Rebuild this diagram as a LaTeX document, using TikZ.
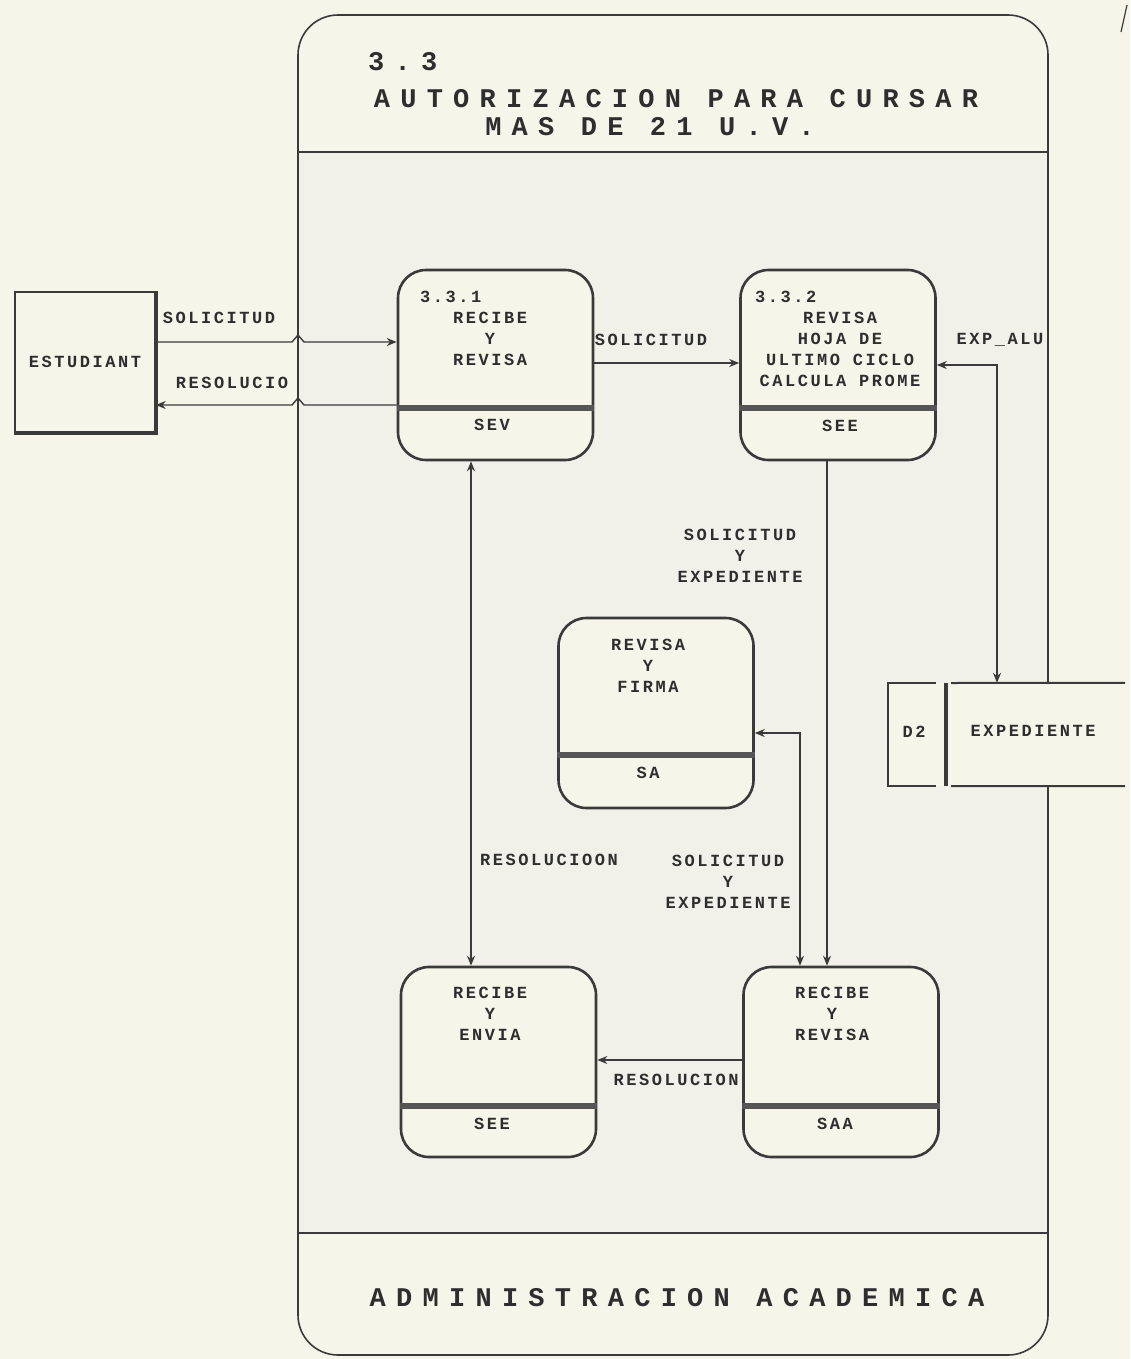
\documentclass[tikz,border=0pt]{standalone}
\usepackage{fontspec}
\usetikzlibrary{arrows.meta}
\newfontfamily\dmfont[LetterSpace=15]{Liberation Mono}
\newfontfamily\ttlfont[LetterSpace=38]{Liberation Mono}
\definecolor{bgc}{HTML}{F6F5EA}
\definecolor{inc}{HTML}{F1F1EA}
\definecolor{lc}{HTML}{3A3A3A}
\definecolor{tc}{HTML}{2E2E2E}
\definecolor{bandc}{HTML}{555555}
\tikzset{
  ln/.style={draw=lc, line width=1.4pt},
  flow/.style={ln, -{Stealth[length=10pt,width=8pt]}},
  biflow/.style={ln, {Stealth[length=10pt,width=8pt]}-{Stealth[length=10pt,width=8pt]}},
  proc/.style={draw=lc, line width=2.6pt, rounded corners=28pt, fill=bgc, minimum width=195pt, minimum height=190pt, inner sep=0pt},
  lbl/.style={font=\dmfont\bfseries\fontsize{17}{21}\selectfont, text=tc, inner sep=0pt, align=center},
  ttl/.style={font=\ttlfont\bfseries\fontsize{27}{20}\selectfont, text=tc, inner sep=0pt},
  band/.style={draw=bandc, line width=6pt},
  frm/.style={draw=lc, line width=1.6pt},
}
\begin{document}
\begin{tikzpicture}[x=1pt,y=-1pt]
\fill[bgc] (0,0) rectangle (1130,1359);
\useasboundingbox (0,0) rectangle (1130,1359);
% frame
\fill[inc] (298,152) rectangle (1048,1233);
\draw[frm, rounded corners=40pt] (298,15) rectangle (1048,1355);
\draw[frm] (298,152) -- (1048,152);
\draw[frm] (298,1233) -- (1048,1233);
\draw[ln, line width=1.2pt] (1121,32) -- (1127,5);
% titles
\node[ttl, anchor=west] (tnum) at (368,62) {3.3};
\node[ttl] (t1) at (676,99) {AUTORIZACION PARA CURSAR};
\node[ttl] (t2) at (650,127) {MAS DE 21 U.V.};
\node[ttl] (tf) at (677,1298) {ADMINISTRACION ACADEMICA};
% external entity
\node[draw=lc, line width=1.5pt, fill=bgc, minimum width=140pt, minimum height=140pt, inner sep=0pt, lbl] (est) at (85,362) {ESTUDIANT};
\draw[lc, line width=4pt] (est.north east) -- (est.south east) -- (est.south west);
% processes
\node[proc] (p1) at (495.5,365) {};
\node[proc] (p2) at (838,365) {};
\node[proc] (p3) at (656,713) {};
\node[proc] (p4) at (498.5,1062) {};
\node[proc] (p5) at (841,1062) {};
\draw[band] (p1.west |- 0,408) -- (p1.east |- 0,408);
\draw[band] (p2.west |- 0,408) -- (p2.east |- 0,408);
\draw[band] (p3.west |- 0,755) -- (p3.east |- 0,755);
\draw[band] (p4.west |- 0,1106) -- (p4.east |- 0,1106);
\draw[band] (p5.west |- 0,1106) -- (p5.east |- 0,1106);
% process texts
\node[lbl, anchor=west] (p1n) at (420,297) {3.3.1};
\node[lbl] (p1t) at (490,339) {RECIBE\\Y\\REVISA};
\node[lbl] (p1s) at (492,425) {SEV};
\node[lbl, anchor=west] (p2n) at (755,297) {3.3.2};
\node[lbl] (p2t) at (840,349.5) {REVISA\\HOJA DE\\ULTIMO CICLO\\CALCULA PROME};
\node[lbl] (p2s) at (840,426) {SEE};
\node[lbl] (p3t) at (648,666) {REVISA\\Y\\FIRMA};
\node[lbl] (p3s) at (648,773) {SA};
\node[lbl] (p4t) at (490,1014) {RECIBE\\Y\\ENVIA};
\node[lbl] (p4s) at (492,1124) {SEE};
\node[lbl] (p5t) at (832,1014) {RECIBE\\Y\\REVISA};
\node[lbl] (p5s) at (835,1124) {SAA};
% data store
\node[fill=bgc, minimum width=237pt, minimum height=103pt, inner sep=0pt] (ds) at (1006.5,734.5) {};
\draw[ln, line width=2pt] (936,683) -- (888,683) -- (888,786) -- (936,786);
\draw[lc, line width=4pt] (946,683) -- (946,786);
\draw[ln, line width=2pt] (951,683) -- (ds.north east);
\draw[ln, line width=2pt] (951,786) -- (ds.south east);
\node[lbl] (dsn) at (914,732) {D2};
\node[lbl] (dst) at (1033,731) {EXPEDIENTE};
% flows
\draw[flow] (est.east |- 0,342) -- (292,342) -- (298,335) -- (304,342) -- (p1.west |- 0,342);
\draw[flow] (p1.west |- 0,405) -- (304,405) -- (298,398) -- (292,405) -- (est.east |- 0,405);
\draw[flow] (p1.east |- 0,363) -- (p2.west |- 0,363);
\draw[biflow] (p2.east |- 0,365) -- (997,365) -- (ds.north -| 997,0);
\draw[flow] (p2.south -| 827,0) -- (p5.north -| 827,0);
\draw[biflow] (p3.east |- 0,733) -- (800,733) -- (p5.north -| 800,0);
\draw[biflow] (p1.south -| 471,0) -- (p4.north -| 471,0);
\draw[flow] (p5.west |- 0,1060) -- (p4.east |- 0,1060);
% flow labels
\node[lbl] (l1) at (219,318) {SOLICITUD};
\node[lbl] (l2) at (232,383) {RESOLUCIO};
\node[lbl] (l3) at (651,340) {SOLICITUD};
\node[lbl] (l4) at (1000,340) {EXP\_ALU};
\node[lbl] (l5) at (740,556) {SOLICITUD\\Y\\EXPEDIENTE};
\node[lbl] (l6) at (728,882) {SOLICITUD\\Y\\EXPEDIENTE};
\node[lbl] (l7) at (549,860) {RESOLUCIOON};
\node[lbl] (l8) at (676,1080) {RESOLUCION};
\end{tikzpicture}
\end{document}
